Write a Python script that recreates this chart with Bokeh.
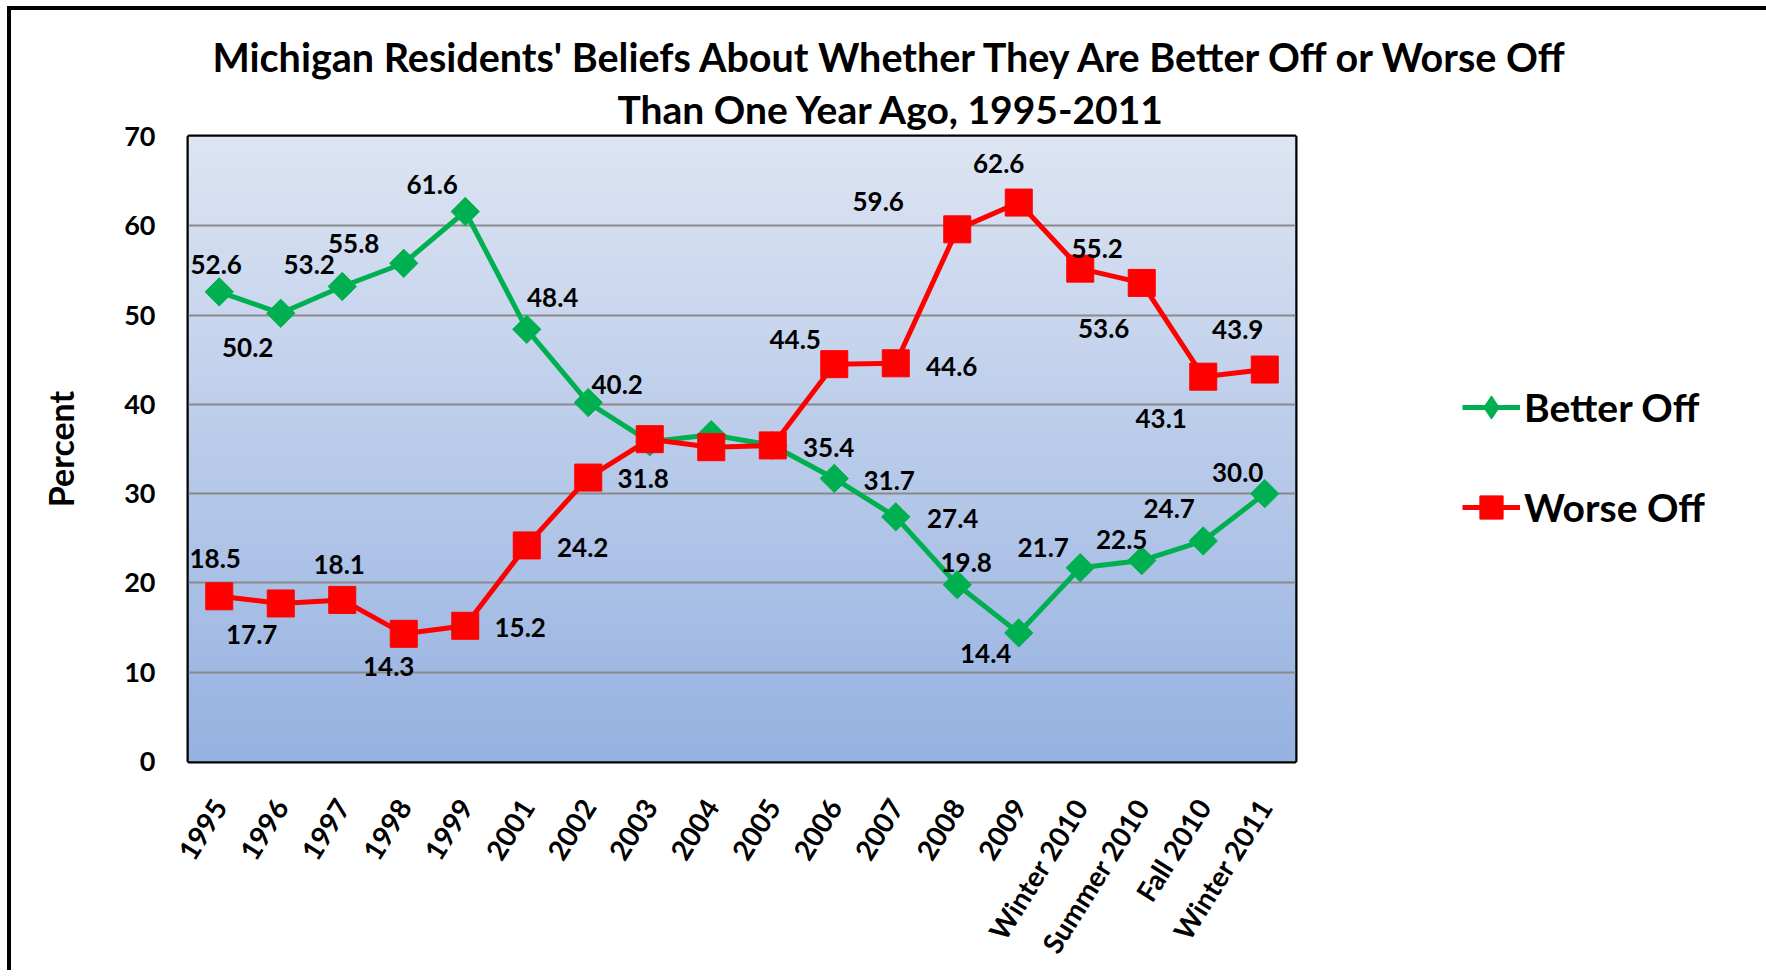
import math
import numpy as np
from bokeh.plotting import figure
from bokeh.models import (ColumnDataSource, FactorRange, Range1d, FixedTicker, Title,
                          LabelSet, Legend, LegendItem)
from bokeh.core.properties import value
from bokeh.embed import file_html
from bokeh.resources import INLINE

# ---------------- data ----------------
categories = ["1995", "1996", "1997", "1998", "1999", "2001", "2002", "2003", "2004",
              "2005", "2006", "2007", "2008", "2009", "Winter 2010", "Summer 2010",
              "Fall 2010", "Winter 2011"]
better_off = [52.6, 50.2, 53.2, 55.8, 61.6, 48.4, 40.2, 35.8, 36.6, 35.4, 31.7, 27.4,
              19.8, 14.4, 21.7, 22.5, 24.7, 30.0]
worse_off = [18.5, 17.7, 18.1, 14.3, 15.2, 24.2, 31.8, 36.1, 35.2, 35.4, 44.5, 44.6,
             59.6, 62.6, 55.2, 53.6, 43.1, 43.9]
y_ticks = [0, 10, 20, 30, 40, 50, 60, 70]
title_line1 = "Michigan Residents' Beliefs About Whether They Are Better Off or Worse Off"
title_line2 = "Than One Year Ago, 1995-2011"
y_label = "Percent"
series_names = ["Better Off", "Worse Off"]

# ---------------- label placement (style, screen px; None = label not shown) ----------------
better_dx = [-3, -33, -33, -50, -33, 26, 29, None, None, None, 55, 57, 9, -33, -37, -20, -34, -27]
better_dy = [27, -34, 22, 20, 27, 32, 18, None, None, None, -2, -2, 22, -21, 20, 21, 32, 21]
worse_dx = [-4, -29, -3, -15, 55, 56, 55, None, None, 56, -39, 56, -79, -20, 17, -38, -42, -27]
worse_dy = [38, -31, 35, -33, -2, -2, -1, None, None, -2, 25, -3, 28, 39, 20, -46, -42, 40]

FONT = "Lato"
GREEN = "#00b050"
RED = "#ff0000"

p = figure(x_range=FactorRange(*categories), y_range=Range1d(0, 70),
           width=1740, height=955, frame_width=1107, frame_height=625,
           min_border_left=177, min_border_top=126, min_border_right=456,
           min_border_bottom=204,
           output_backend="svg", toolbar_location=None)
p.styles = {"border-top": "4px solid black", "border-left": "4px solid black",
            "margin-left": "7px", "margin-top": "6px"}
p.title.visible = False

# background gradient in the plot area
n = 256
img = np.empty((n, 1), dtype=np.uint32)
view = img.view(dtype=np.uint8).reshape((n, 1, 4))
top_c = np.array([222, 229, 243])
bot_c = np.array([150, 178, 225])
for i in range(n):
    t = i / (n - 1)
    c = bot_c * (1 - t) + top_c * t
    view[i, 0, 0:3] = c.astype(np.uint8)
    view[i, 0, 3] = 255
p.image_rgba(image=[img], x=0, y=0, dw=len(categories), dh=70, level="image")

p.outline_line_color = "black"
p.outline_line_width = 4
p.background_fill_color = "#bccbe9"

p.xgrid.grid_line_color = None
p.ygrid.ticker = FixedTicker(ticks=y_ticks)
p.ygrid.grid_line_color = "#8a8a8a"
p.ygrid.grid_line_width = 2

# axes
p.yaxis.ticker = FixedTicker(ticks=y_ticks)
for ax in (p.xaxis[0], p.yaxis[0]):
    ax.axis_line_color = None
    ax.major_tick_line_color = None
    ax.minor_tick_line_color = None
    ax.major_tick_out = 0
    ax.major_label_text_font = FONT
    ax.major_label_text_font_style = "bold"
    ax.major_label_text_color = "black"
p.yaxis.major_label_text_font_size = "27px"
p.yaxis.major_label_standoff = 33
p.yaxis.axis_label = y_label
p.yaxis.axis_label_text_font = FONT
p.yaxis.axis_label_text_font_style = "bold"
p.yaxis.axis_label_text_font_size = "34px"
p.yaxis.axis_label_text_color = "black"
p.yaxis.axis_label_standoff = 40
p.xaxis.major_label_text_font_size = "28px"
p.xaxis.major_label_orientation = math.radians(58)
p.xaxis.major_label_standoff = 40

# series
src = ColumnDataSource(dict(cat=categories, better=better_off, worse=worse_off))
gl = p.line("cat", "better", source=src, line_color=GREEN, line_width=5)
gm = p.scatter("cat", "better", source=src, marker="square", angle=math.pi / 4, size=20,
               fill_color=GREEN, line_color=GREEN)
rl = p.line("cat", "worse", source=src, line_color=RED, line_width=5)
rm = p.scatter("cat", "worse", source=src, marker="square", size=27,
               fill_color=RED, line_color=RED)
# diamond symbol used for the legend key only (hidden in the plot area)
g_key = p.scatter("cat", "better", source=src, marker="diamond", size=26,
                  fill_color=GREEN, line_color=GREEN, visible=False)


def label_source(vals, dxs, dys):
    d = dict(cat=[], v=[], t=[], dx=[], dy=[])
    for c, v, dx, dy in zip(categories, vals, dxs, dys):
        if dx is None:
            continue
        d["cat"].append(c)
        d["v"].append(v)
        d["t"].append(f"{v:.1f}")
        d["dx"].append(dx)
        d["dy"].append(dy)
    return ColumnDataSource(d)


for vals, dxs, dys in ((better_off, better_dx, better_dy), (worse_off, worse_dx, worse_dy)):
    ls = LabelSet(x="cat", y="v", text="t", x_offset="dx", y_offset="dy",
                  source=label_source(vals, dxs, dys),
                  text_font=value(FONT), text_font_style="bold", text_font_size="26px",
                  text_color="black", text_align="center", text_baseline="middle")
    p.add_layout(ls)

# title: two lines stacked above the plot area (second line nearest the plot)
p.add_layout(Title(text=title_line2, align="left", offset=429, text_font=FONT,
                   text_font_style="bold", text_font_size="39px", text_color="black",
                   standoff=9), "above")
p.add_layout(Title(text=title_line1, align="left", offset=24, text_font=FONT,
                   text_font_style="bold", text_font_size="39.5px", text_color="black",
                   standoff=0), "above")

legend = Legend(items=[LegendItem(label=series_names[0], renderers=[gl, g_key]),
                       LegendItem(label=series_names[1], renderers=[rl, rm])],
                location=(167, 222), orientation="vertical",
                glyph_width=58, glyph_height=64, label_height=64, spacing=36,
                label_standoff=4, padding=0, margin=0,
                border_line_color=None, background_fill_alpha=0,
                inactive_fill_alpha=0,
                label_text_font=FONT, label_text_font_style="bold",
                label_text_font_size="39px", label_text_color="black")
p.add_layout(legend, "right")

open("out.html", "w").write(file_html(p, INLINE))
